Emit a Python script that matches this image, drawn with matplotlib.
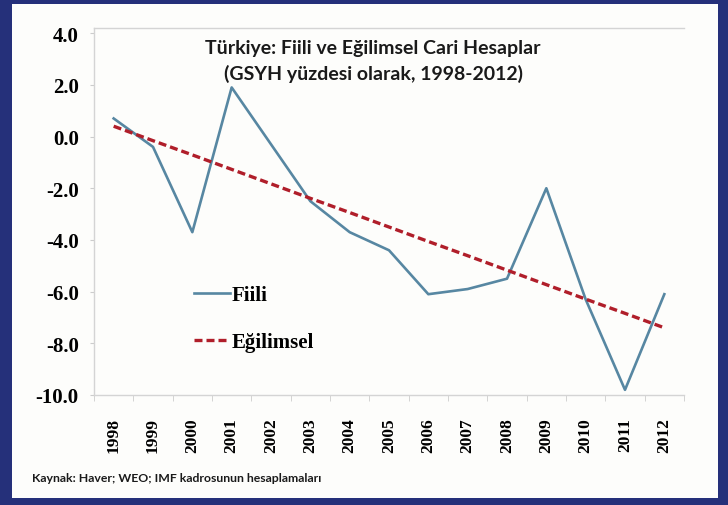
import numpy as np
import matplotlib
matplotlib.use("Agg")
import matplotlib.pyplot as plt
from matplotlib.patches import Rectangle

# Veriler
yillar = ["1998", "1999", "2000", "2001", "2002", "2003", "2004", "2005",
          "2006", "2007", "2008", "2009", "2010", "2011", "2012"]
fiili = [0.7, -0.4, -3.7, 1.9, -0.3, -2.5, -3.7, -4.4,
         -6.1, -5.9, -5.5, -2.0, -6.3, -9.8, -6.1]
egilimsel = [0.4, -0.16, -0.71, -1.27, -1.83, -2.39, -2.94, -3.5,
             -4.06, -4.61, -5.17, -5.73, -6.29, -6.84, -7.4]
y_ticks = [4.0, 2.0, 0.0, -2.0, -4.0, -6.0, -8.0, -10.0]

baslik = "Türkiye: Fiili ve Eğilimsel Cari Hesaplar\n(GSYH yüzdesi olarak, 1998-2012)"
kaynak = "Kaynak: Haver; WEO; IMF kadrosunun hesaplamaları"

W, H = 728, 506
fig = plt.figure(figsize=(W / 100, H / 100), dpi=100)
fig.patch.set_facecolor("#25307a")

# beyaz panel
fig.patches.append(Rectangle((12 / W, 7 / H), 706 / W, 494 / H,
                             transform=fig.transFigure, facecolor="#fdfdfb",
                             edgecolor="none", zorder=-5))

ax = fig.add_axes([94 / W, 110 / H, 590 / W, 367 / H])
ax.set_facecolor("none")

x = np.arange(len(yillar))
ax.plot(x, fiili, color="#5787a2", lw=1.9, label="Fiili", zorder=3)
ax.plot(x, egilimsel, color="#b01e2a", lw=2.4, dashes=(2.4, 1.2),
        label="Eğilimsel", zorder=4)

ax.set_xlim(-0.5, len(yillar) - 0.5)
ax.set_ylim(-10, 4.2)

serif = "Liberation Serif"
ax.set_yticks(y_ticks)
ax.set_yticklabels(["%.1f" % v for v in y_ticks], fontfamily=serif,
                   fontweight="bold", fontsize=15)
ax.set_xticks(x)
ax.set_xticklabels(yillar, rotation=90, fontfamily=serif,
                   fontweight="bold", fontsize=12.5)
ax.set_xticks(np.arange(-0.5, len(yillar), 1.0), minor=True)
ax.tick_params(axis="x", which="major", length=0, pad=16)
ax.tick_params(axis="x", which="minor", length=4, color="#cccccc")
ax.tick_params(axis="y", length=3, color="#cccccc", pad=8)

for s in ["left", "bottom", "top"]:
    ax.spines[s].set_color("#d4d4d4")
    ax.spines[s].set_linewidth(1)
ax.spines["right"].set_visible(False)

ax.text(0.473, 0.97, baslik, transform=ax.transAxes, ha="center", va="top",
        fontfamily="Lato", fontweight="bold", fontsize=14, color="#1a1a1a",
        linespacing=1.55)

leg = ax.legend(loc="upper left", bbox_to_anchor=(0.138, 0.35), frameon=False,
                prop={"family": serif, "weight": "bold", "size": 15},
                handlelength=1.7, handletextpad=0.1, labelspacing=1.3)

fig.text(32 / W, (H - 479) / H, kaynak, ha="left", va="center",
         fontfamily="Lato", fontweight="bold", fontsize=8.8, color="#1a1a1a")

fig.savefig("out.png", dpi=100, facecolor=fig.get_facecolor())
